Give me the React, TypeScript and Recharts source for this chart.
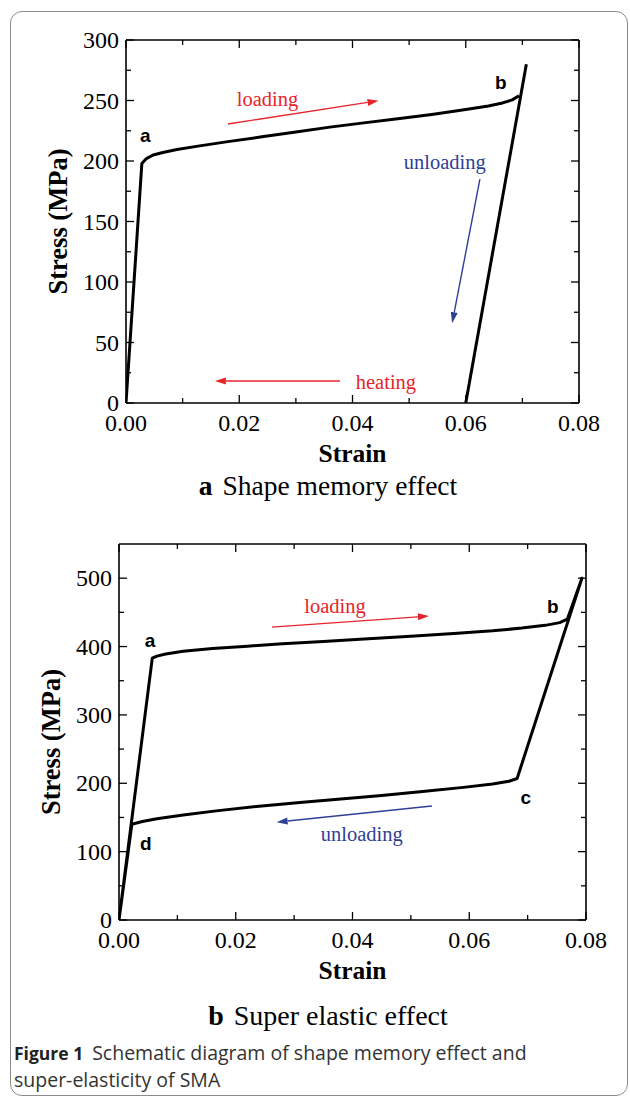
import React from 'react'
import { LineChart, Line, XAxis, YAxis, ReferenceLine, ReferenceDot } from 'recharts'

// panel a - shape memory effect
const smeLoadStrain = [0, 0.0028, 0.0036, 0.0048, 0.0065, 0.009, 0.013, 0.018, 0.024, 0.03, 0.036, 0.042, 0.048, 0.054, 0.06, 0.064, 0.0665, 0.0682, 0.0694]
const smeLoadStress = [0, 198, 202, 205, 207, 209.5, 212.5, 216, 220, 224, 228, 231.5, 235, 238.5, 242.5, 245.5, 248, 250.5, 254]
const smeUnloadStrain = [0.06, 0.0707]
const smeUnloadStress = [0, 280]

// panel b - super elastic effect (one closed loop)
const seLoopStrain = [0, 0.0057, 0.0065, 0.008, 0.011, 0.016, 0.022, 0.028, 0.035, 0.042, 0.05, 0.058, 0.064, 0.069, 0.073, 0.0755, 0.0768, 0.0793, 0.0682, 0.0668, 0.064, 0.059, 0.052, 0.045, 0.038, 0.031, 0.024, 0.017, 0.011, 0.0065, 0.004, 0.0022, 0]
const seLoopStress = [0, 383, 386, 389, 393, 397, 400.5, 404, 407.5, 411, 415, 419.5, 423, 427, 431, 435, 440, 500, 207, 203, 199, 194, 188, 182, 177, 172, 166.5, 160, 153.5, 148, 144, 140, 0]

const xTicks = [0, 0.01, 0.02, 0.03, 0.04, 0.05, 0.06, 0.07, 0.08]
const xMajor = [0, 0.02, 0.04, 0.06, 0.08]
const smeYTicks = [0, 25, 50, 75, 100, 125, 150, 175, 200, 225, 250, 275, 300]
const smeYMajor = [0, 50, 100, 150, 200, 250, 300]
const seYTicks = [0, 50, 100, 150, 200, 250, 300, 350, 400, 450, 500]
const seYMajor = [0, 100, 200, 300, 400, 500]

// annotations: [label, strain, stress] (text baseline) and arrows [x1, y1, x2, y2]
const smeNotes: [string, number, number, string][] = [
  ['loading', 0.025, 245.5, 'red'],
  ['unloading', 0.0563, 193, 'blue'],
  ['heating', 0.0459, 11.6, 'red'],
]
const smePoints: [string, number, number][] = [
  ['a', 0.0034, 215.5],
  ['b', 0.0662, 259.5],
]
const smeArrows: [number, number, number, number, string][] = [
  [0.018, 230.6, 0.0446, 249.8, 'red'],
  [0.0625, 185, 0.0576, 66, 'blue'],
  [0.0378, 18.2, 0.0157, 18.2, 'red'],
]
const seNotes: [string, number, number, string][] = [
  ['loading', 0.037, 448.8, 'red'],
  ['unloading', 0.0416, 115.5, 'blue'],
]
const sePoints: [string, number, number][] = [
  ['a', 0.0053, 399],
  ['b', 0.0743, 449],
  ['c', 0.0697, 169.6],
  ['d', 0.0046, 102.3],
]
const seArrows: [number, number, number, number, string][] = [
  [0.0262, 428.4, 0.0531, 444.6, 'red'],
  [0.0536, 166.7, 0.027, 143.1, 'blue'],
]

const COLORS: Record<string, string> = { red: '#e6242b', blue: '#2f3f96' }
const SERIF = '"Liberation Serif", "Times New Roman", serif'
const SANS = '"Liberation Sans", Arial, sans-serif'
const CAPTION = '"Open Sans", "Noto Sans", sans-serif'
const TINY = 0.01

const rows = (xs: number[], ys: number[]) => xs.map((x, i) => ({ x, y: ys[i] }))

// ticks point into the plot; labels only on major ticks of left/bottom axes
const makeTick = (side: 'left' | 'bottom' | 'top' | 'right', majors: number[], fmt: (v: number) => string) =>
  (p: any) => {
    const v = p.payload.value
    const major = majors.some((m) => Math.abs(m - v) < 1e-9)
    const len = major ? 8 : 5
    const { x, y } = p
    let l = { x1: x, y1: y, x2: x, y2: y }
    if (side === 'left') l.x2 = x + len
    if (side === 'right') l.x2 = x - len
    if (side === 'bottom') l.y2 = y - len
    if (side === 'top') l.y2 = y + len
    return (
      <g>
        <line {...l} stroke="#000" strokeWidth={1.3} />
        {major && side === 'left' && (
          <text x={x - 7} y={y + 8} textAnchor="end" fontFamily={SERIF} fontSize={24} fill="#000">
            {fmt(v)}
          </text>
        )}
        {major && side === 'bottom' && (
          <text x={x} y={y + 28} textAnchor="middle" fontFamily={SERIF} fontSize={24} fill="#000">
            {fmt(v)}
          </text>
        )}
      </g>
    )
  }

const arrowShape = (color: string) => (p: any) => {
  const { x1, y1, x2, y2 } = p
  const ang = Math.atan2(y2 - y1, x2 - x1)
  const L = 11
  const W = 3.5
  const bx = x2 - L * Math.cos(ang)
  const by = y2 - L * Math.sin(ang)
  const px = -Math.sin(ang) * W
  const py = Math.cos(ang) * W
  return (
    <g>
      <line x1={x1} y1={y1} x2={bx} y2={by} stroke={color} strokeWidth={1.4} />
      <polygon points={`${x2},${y2} ${bx + px},${by + py} ${bx - px},${by - py}`} fill={color} />
    </g>
  )
}

const textShape = (label: string, color: string, family: string, size: number, weight: string) => (p: any) => (
  <text x={p.cx} y={p.cy} textAnchor="middle" fontFamily={family} fontSize={size} fontWeight={weight} fill={color}>
    {label}
  </text>
)

interface PanelProps {
  top: number
  height: number
  margin: { top: number; right: number; bottom: number; left: number }
  yWidth: number
  yDomain: [number, number]
  yTicks: number[]
  yMajor: number[]
  yLabelX: number
  yLabelDy: number
  series: { x: number; y: number }[][]
  notes: [string, number, number, string][]
  points: [string, number, number][]
  arrows: [number, number, number, number, string][]
}

function Panel(props: PanelProps) {
  const { top, height, margin, yWidth, yDomain, yTicks, yMajor, yLabelX, yLabelDy, series, notes, points, arrows } = props
  const fx = (v: number) => v.toFixed(2)
  const fy = (v: number) => String(v)
  const axisLine = { stroke: '#000', strokeWidth: 1.6 }
  return (
    <div style={{ position: 'absolute', left: 0, top }}>
      <LineChart width={630} height={height} margin={margin}>
        <XAxis
          xAxisId="b"
          dataKey="x"
          type="number"
          domain={[0, 0.08]}
          ticks={xTicks}
          interval={0}
          height={50}
          tickSize={TINY}
          tickMargin={TINY}
          axisLine={axisLine}
          tickLine={false}
          tick={makeTick('bottom', xMajor, fx)}
          allowDataOverflow
          label={{
            content: (lp: any) => {
              const vb = lp.viewBox
              return (
                <text x={vb.x + vb.width / 2} y={vb.y + 59} textAnchor="middle" fontFamily={SERIF} fontSize={25.5} fontWeight="bold" fill="#000">
                  Strain
                </text>
              )
            },
          }}
        />
        <XAxis
          xAxisId="t"
          orientation="top"
          dataKey="x"
          type="number"
          domain={[0, 0.08]}
          ticks={xTicks}
          interval={0}
          height={1}
          tickSize={TINY}
          tickMargin={TINY}
          axisLine={axisLine}
          tickLine={false}
          tick={makeTick('top', xMajor, fx)}
          allowDataOverflow
        />
        <YAxis
          yAxisId="l"
          type="number"
          domain={yDomain}
          ticks={yTicks}
          interval={0}
          width={yWidth}
          tickSize={TINY}
          tickMargin={TINY}
          axisLine={axisLine}
          tickLine={false}
          tick={makeTick('left', yMajor, fy)}
          allowDataOverflow
          label={{
            content: (lp: any) => {
              const vb = lp.viewBox
              const cy = vb.y + vb.height / 2 + yLabelDy
              return (
                <text
                  x={yLabelX}
                  y={cy}
                  transform={`rotate(-90, ${yLabelX}, ${cy})`}
                  textAnchor="middle"
                  fontFamily={SERIF}
                  fontSize={26.5}
                  fontWeight="bold"
                  fill="#000"
                >
                  Stress (MPa)
                </text>
              )
            },
          }}
        />
        <YAxis
          yAxisId="r"
          orientation="right"
          type="number"
          domain={yDomain}
          ticks={yTicks}
          interval={0}
          width={1}
          tickSize={TINY}
          tickMargin={TINY}
          axisLine={axisLine}
          tickLine={false}
          tick={makeTick('right', yMajor, fy)}
          allowDataOverflow
        />
        {series.map((d, i) => (
          <Line
            key={i}
            data={d}
            xAxisId="b"
            yAxisId="l"
            dataKey="y"
            type="linear"
            stroke="#000"
            strokeWidth={3}
            strokeLinejoin="round"
            dot={false}
            activeDot={false}
            isAnimationActive={false}
          />
        ))}
        {arrows.map(([x1, y1, x2, y2, c], i) => (
          <ReferenceLine
            key={'ar' + i}
            xAxisId="b"
            yAxisId="l"
            segment={[{ x: x1, y: y1 }, { x: x2, y: y2 }]}
            ifOverflow="visible"
            shape={arrowShape(COLORS[c])}
          />
        ))}
        {notes.map(([t, x, y, c], i) => (
          <ReferenceDot
            key={'n' + i}
            xAxisId="b"
            yAxisId="l"
            x={x}
            y={y}
            r={0}
            ifOverflow="visible"
            shape={textShape(t, COLORS[c], SERIF, 20.5, 'normal')}
          />
        ))}
        {points.map(([t, x, y], i) => (
          <ReferenceDot
            key={'p' + i}
            xAxisId="b"
            yAxisId="l"
            x={x}
            y={y}
            r={0}
            ifOverflow="visible"
            shape={textShape(t, '#000', SANS, 19, 'bold')}
          />
        ))}
      </LineChart>
    </div>
  )
}

export default function App() {
  return (
    <div style={{ position: 'absolute', left: 0, top: 0, width: 630, height: 1100, background: '#fff', overflow: 'hidden' }}>
      <div
        style={{
          position: 'absolute',
          left: 10,
          top: 11,
          width: 618,
          height: 1085,
          border: '1.2px solid #8c8c8c',
          borderRadius: 12,
          boxSizing: 'border-box',
        }}
      />
      <Panel
        top={0}
        height={500}
        margin={{ top: 39, right: 50, bottom: 47, left: 0 }}
        yWidth={126}
        yDomain={[0, 300]}
        yTicks={smeYTicks}
        yMajor={smeYMajor}
        yLabelX={67}
        yLabelDy={0}
        series={[rows(smeLoadStrain, smeLoadStress), rows(smeUnloadStrain, smeUnloadStress)]}
        notes={smeNotes}
        points={smePoints}
        arrows={smeArrows}
      />
      <Panel
        top={500}
        height={500}
        margin={{ top: 43, right: 43, bottom: 30, left: 0 }}
        yWidth={119}
        yDomain={[0, 550]}
        yTicks={seYTicks}
        yMajor={seYMajor}
        yLabelX={60}
        yLabelDy={10}
        series={[rows(seLoopStrain, seLoopStress)]}
        notes={seNotes}
        points={sePoints}
        arrows={seArrows}
      />
      <svg width={630} height={1100} style={{ position: 'absolute', left: 0, top: 0, pointerEvents: 'none' }}>
        <text x={328} y={495} textAnchor="middle" fontFamily={SERIF} fontSize={27.5} fill="#000">
          <tspan fontWeight="bold">a</tspan>
          <tspan dx={10}>Shape memory effect</tspan>
        </text>
        <text x={328} y={1025} textAnchor="middle" fontFamily={SERIF} fontSize={28} fill="#000">
          <tspan fontWeight="bold">b</tspan>
          <tspan dx={10}>Super elastic effect</tspan>
        </text>
        <text x={14} y={1060} fontFamily={CAPTION} fontSize={19.5} fill="#333">
          <tspan fontWeight="bold" fontSize={17.5} fill="#222">Figure 1</tspan>
          <tspan dx={9}>Schematic diagram of shape memory effect and</tspan>
        </text>
        <text x={14} y={1087} fontFamily={CAPTION} fontSize={19.5} fill="#333">
          super-elasticity of SMA
        </text>
      </svg>
    </div>
  )
}
